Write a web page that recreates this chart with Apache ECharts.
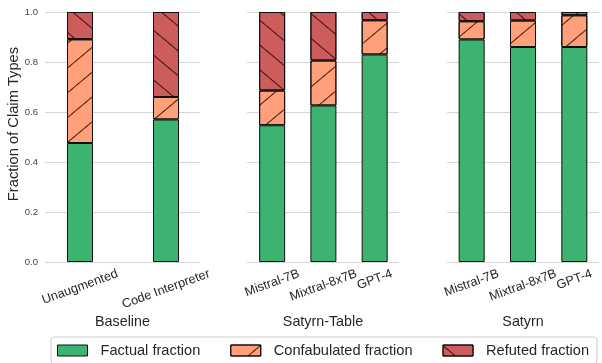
<!DOCTYPE html>
<html>
<head>
<meta charset="utf-8">
<script src="https://cdn.jsdelivr.net/npm/echarts@6/dist/echarts.min.js"></script>
<style>html,body{margin:0;padding:0;background:#fff}#c{width:602px;height:363px}</style>
</head>
<body>
<div id="c"></div>
<script>
// ---- data ----
const groupNames = ['Baseline', 'Satyrn-Table', 'Satyrn'];
const baselineCats = ['Unaugmented', 'Code Interpreter'];
const tableCats = ['Mistral-7B', 'Mixtral-8x7B', 'GPT-4'];
const satyrnCats = ['Mistral-7B', 'Mixtral-8x7B', 'GPT-4'];

const baselineFactual = [0.476, 0.570];
const baselineConfab  = [0.415, 0.090];
const baselineRefuted = [0.109, 0.340];

const tableFactual = [0.547, 0.626, 0.830];
const tableConfab  = [0.139, 0.180, 0.137];
const tableRefuted = [0.314, 0.194, 0.033];

const satyrnFactual = [0.890, 0.860, 0.860];
const satyrnConfab  = [0.073, 0.106, 0.127];
const satyrnRefuted = [0.037, 0.034, 0.013];

const seriesNames = ['Factual fraction', 'Confabulated fraction', 'Refuted fraction'];

// ---- layout ----
const FONT = 'Liberation Sans, Arial, sans-serif';
const LABEL_FS = 12.7;
const groups = [
  {cats: baselineCats, vals: [baselineFactual, baselineConfab, baselineRefuted], gl: 45, gw: 155, bl: 37, bw: 172},
  {cats: tableCats, vals: [tableFactual, tableConfab, tableRefuted], gl: 247, gw: 152, bl: 246.5, bw: 153.8},
  {cats: satyrnCats, vals: [satyrnFactual, satyrnConfab, satyrnRefuted], gl: 447, gw: 152, bl: 446, bw: 154}
];
const colors = ['#3cb371', '#ffa07a', '#cd5c5c'];
const decals = [
  null,
  {symbol: 'rect', symbolSize: 1, color: 'rgba(40,0,0,0.85)', dashArrayX: [1, 0], dashArrayY: [1, 18], rotation: -Math.PI / 4.5},
  {symbol: 'rect', symbolSize: 1, color: 'rgba(40,0,0,0.85)', dashArrayX: [1, 0], dashArrayY: [1, 18], rotation: Math.PI / 4.5}
];

const grid = [], xAxis = [], yAxis = [], series = [], graphic = [];
const barGridIdx = [];
groups.forEach((g, gi) => {
  // background grid: gridlines + y labels
  const bgIdx = grid.length;
  grid.push({left: g.gl, width: g.gw, top: 12, height: 250});
  xAxis.push({type: 'value', gridIndex: bgIdx, min: 0, max: 1, show: false});
  yAxis.push({
    type: 'value', gridIndex: bgIdx, min: 0, max: 1, interval: 0.2,
    axisLine: {show: false}, axisTick: {show: false},
    splitLine: {show: true, lineStyle: {color: '#d6d6d6', width: 1}},
    axisLabel: {show: gi === 0, formatter: v => v.toFixed(1), fontSize: 9.5, color: '#444', margin: 7, fontFamily: FONT}
  });
  // bar grid
  const bIdx = grid.length;
  barGridIdx.push(bIdx);
  grid.push({left: g.bl, width: g.bw, top: 12, height: 250});
  xAxis.push({
    type: 'category', gridIndex: bIdx, data: g.cats,
    axisLine: {show: false}, axisTick: {show: false}, splitLine: {show: false},
    axisLabel: {show: false}
  });
  yAxis.push({
    type: 'value', gridIndex: bIdx, min: 0, max: 1, interval: 0.2,
    axisLine: {show: false}, axisTick: {show: false}, splitLine: {show: false}, axisLabel: {show: false}
  });
  g.vals.forEach((arr, si) => {
    const itemStyle = {color: colors[si], borderColor: '#111', borderWidth: 1};
    if (decals[si]) itemStyle.decal = decals[si];
    series.push({
      type: 'bar', name: seriesNames[si], xAxisIndex: bIdx, yAxisIndex: bIdx, stack: 'g' + gi,
      barWidth: 26,
      itemStyle,
      emphasis: {disabled: true},
      data: arr
    });
  });
  graphic.push({
    type: 'text', x: g.gl + g.gw / 2, y: 322,
    style: {text: groupNames[gi], fontSize: 14.3, fill: '#262626', fontFamily: FONT, align: 'center', verticalAlign: 'middle'}
  });
});
graphic.push({
  type: 'text', x: 14, y: 124, rotation: Math.PI / 2,
  style: {text: 'Fraction of Claim Types', fontSize: 14.7, fill: '#262626', fontFamily: FONT, align: 'center', verticalAlign: 'middle'}
});

const chart = echarts.init(document.getElementById('c'), null, {renderer: 'canvas'});
chart.setOption({
  animation: false,
  grid, xAxis, yAxis, series, graphic,
  legend: {
    data: seriesNames.map(n => ({name: n, icon: 'rect'})),
    left: 51, top: 337,
    itemWidth: 30, itemHeight: 11, itemGap: 30,
    padding: [6, 8, 6, 6],
    borderColor: '#cccccc', borderWidth: 1, borderRadius: 3, backgroundColor: '#fff',
    itemStyle: {borderWidth: 1},
    textStyle: {fontSize: 14.6, color: '#262626', fontFamily: FONT, padding: [0, 0, 0, 8]},
    selectedMode: false
  }
});

// rotated category labels, top-aligned like matplotlib (ha=center, rotation=20)
const ctx = document.createElement('canvas').getContext('2d');
ctx.font = LABEL_FS + 'px ' + FONT;
const refW = ctx.measureText('Unaugmented').width;
const ang = 20 * Math.PI / 180;
const labelGraphics = [];
groups.forEach((g, gi) => {
  g.cats.forEach(c => {
    const px = chart.convertToPixel({xAxisIndex: barGridIdx[gi]}, c);
    const w = ctx.measureText(c).width;
    const cy = 287 + (w - refW) * Math.sin(ang) / 2;
    labelGraphics.push({
      type: 'text', x: px, y: cy, rotation: ang,
      style: {text: c, fontSize: LABEL_FS, fill: '#262626', fontFamily: FONT, align: 'center', verticalAlign: 'middle'}
    });
  });
});
chart.setOption({graphic: graphic.concat(labelGraphics)});
</script>
</body>
</html>
